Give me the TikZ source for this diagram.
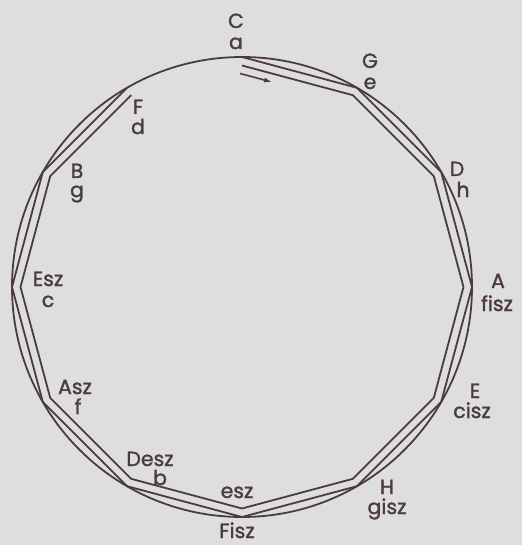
\documentclass[tikz,border=0pt]{standalone}
\usepackage{fontspec}
\setmainfont{Poppins}[FakeBold=1.4]
\usetikzlibrary{arrows.meta,calc}
\definecolor{ink}{RGB}{74,60,58}
\definecolor{paper}{RGB}{222,222,224}

\begin{document}
\begin{tikzpicture}[
    x=1pt, y=1pt,
    ring/.style={draw=ink, line width=1.8pt},
    key/.style={font=\fontsize{20.5}{20.5}\selectfont, text=ink, inner sep=0pt, anchor=base},
    dir/.style={-{Latex[length=8pt,width=5pt]}, draw=ink, line width=1.6pt}
]
\fill[paper] (0,0) rectangle (522,-545);
\useasboundingbox (0,0) rectangle (522,-545);

% circle of fifths
\coordinate (ctr) at (242,-287);
\foreach \k in {0,...,11} {
    \coordinate (o\k) at ($(ctr)+({90-30*\k}:230)$);
    \coordinate (i\k) at ($(ctr)+({90-30*\k}:221.5)$);
}
\draw[ring] (ctr) circle[radius=230];
\draw[ring] (o0) -- (o1) -- (o2) -- (o3) -- (o4) -- (o5) -- (o6) -- (o7) -- (o8) -- (o9) -- (o10) -- (o11);
\draw[ring] (i0) -- (i1) -- (i2) -- (i3) -- (i4) -- (i5) -- (i6) -- (i7) -- (i8) -- (i9) -- (i10) -- (i11);

% direction
\coordinate (tail) at ($(i0)+(-2,-8)$);
\coordinate (head) at ($(i0)!0.29!(i1)+(-2,-8)$);
\draw[dir] (tail) -- (head);

% keys: major above, minor below (baselines)
\foreach \x/\y/\t/\n in {236/-28/C/kC, 236/-49/a/ka,
    370/-68/G/kG, 370/-89/e/ke,
    457/-176/D/kD, 463/-197/h/kh,
    498/-288/A/kA, 497/-311/fisz/kfisz,
    475/-398/E/kE, 472/-418/cisz/kcisz,
    387/-494/H/kH, 387/-514/gisz/kgisz,
    237/-538/Fisz/kFisz, 237/-498/esz/kesz,
    150/-466/Desz/kDesz, 160/-485/b/kb,
    75/-394/Asz/kAsz, 78/-414/f/kf,
    48/-286/Esz/kEsz, 48/-307/c/kc,
    77/-178/B/kB, 77/-197/g/kg,
    138/-114/F/kF, 138/-134/d/kd}
    \node[key] (\n) at (\x,\y) {\t};
\end{tikzpicture}
\end{document}
